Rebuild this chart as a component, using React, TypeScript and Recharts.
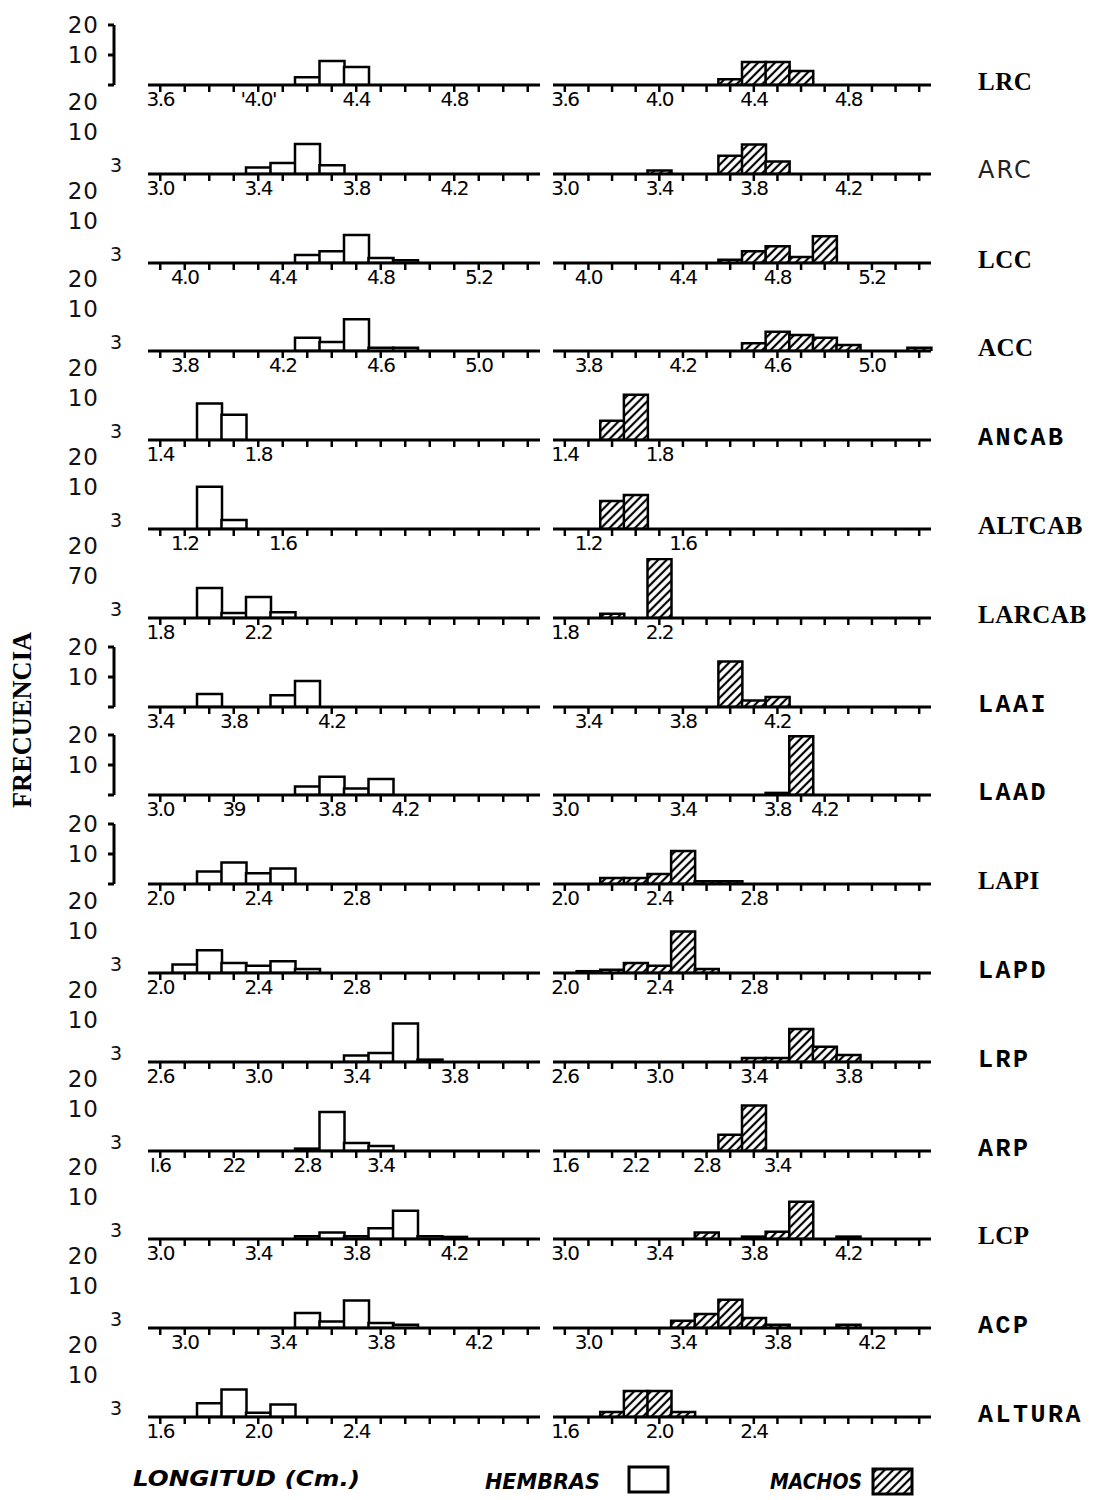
import { Bar, BarChart, XAxis, YAxis } from "recharts";

const rowNames = [
  "LRC", "ARC", "LCC", "ACC", "ANCAB", "ALTCAB", "LARCAB", "LAAI",
  "LAAD", "LAPI", "LAPD", "LRP", "ARP", "LCP", "ACP", "ALTURA",
];

// frecuencia por intervalo de 0.1 cm (16 intervalos por panel)
// HEMBRAS
const lrcH = [0, 0, 0, 0, 0, 0, 2.6, 8, 6, 0, 0, 0, 0, 0, 0, 0];
const arcH = [0, 0, 0, 0, 2.2, 3.7, 10, 2.9, 0, 0, 0, 0, 0, 0, 0, 0];
const lccH = [0, 0, 0, 0, 0, 0, 2.7, 3.9, 9.3, 1.7, 0.9, 0, 0, 0, 0, 0];
const accH = [0, 0, 0, 0, 0, 0, 4.4, 3, 10.6, 1.1, 1.1, 0, 0, 0, 0, 0];
const ancabH = [0, 0, 12.2, 8.4, 0, 0, 0, 0, 0, 0, 0, 0, 0, 0, 0, 0];
const altcabH = [0, 0, 14.1, 3, 0, 0, 0, 0, 0, 0, 0, 0, 0, 0, 0, 0];
const larcabH = [0, 0, 10, 1.7, 7, 1.9, 0, 0, 0, 0, 0, 0, 0, 0, 0, 0];
const laaiH = [0, 0, 4.3, 0, 0, 3.9, 8.7, 0, 0, 0, 0, 0, 0, 0, 0, 0];
const laadH = [0, 0, 0, 0, 0, 0, 2.8, 6.1, 2.2, 5.3, 0, 0, 0, 0, 0, 0];
const lapiH = [0, 0, 4.2, 7.2, 3.6, 5.2, 0, 0, 0, 0, 0, 0, 0, 0, 0, 0];
const lapdH = [0, 2.8, 7.6, 3.3, 2.4, 3.9, 1.3, 0, 0, 0, 0, 0, 0, 0, 0, 0];
const lrpH = [0, 0, 0, 0, 0, 0, 0, 0, 2.2, 3, 12.8, 0.8, 0, 0, 0, 0];
const arpH = [0, 0, 0, 0, 0, 0, 0.8, 13, 2.7, 1.7, 0, 0, 0, 0, 0, 0];
const lcpH = [0, 0, 0, 0, 0, 0, 0.9, 2.2, 0.9, 3.6, 9.4, 0.9, 0.7, 0, 0, 0];
const acpH = [0, 0, 0, 0, 0, 0, 5, 2.2, 9.2, 1.7, 1.1, 0, 0, 0, 0, 0];
const alturaH = [0, 0, 4.6, 9.2, 1.4, 4.2, 0, 0, 0, 0, 0, 0, 0, 0, 0, 0];

// MACHOS
const lrcM = [0, 0, 0, 0, 0, 0, 0, 1.9, 7.7, 7.7, 4.7, 0, 0, 0, 0, 0];
const arcM = [0, 0, 0, 0, 1.2, 0, 0, 6.1, 9.8, 4.2, 0, 0, 0, 0, 0, 0];
const lccM = [0, 0, 0, 0, 0, 0, 0, 1.1, 3.9, 5.6, 2, 8.9, 0, 0, 0, 0];
const accM = [0, 0, 0, 0, 0, 0, 0, 0, 2.6, 6.4, 5.3, 4.4, 2, 0, 0, 1.1];
const ancabM = [0, 0, 6.4, 15.1, 0, 0, 0, 0, 0, 0, 0, 0, 0, 0, 0, 0];
const altcabM = [0, 0, 9.3, 11.3, 0, 0, 0, 0, 0, 0, 0, 0, 0, 0, 0, 0];
const larcabM = [0, 0, 1.4, 0, 19.7, 0, 0, 0, 0, 0, 0, 0, 0, 0, 0, 0];
const laaiM = [0, 0, 0, 0, 0, 0, 0, 15.2, 2.2, 3.3, 0, 0, 0, 0, 0, 0];
const laadM = [0, 0, 0, 0, 0, 0, 0, 0, 0, 0.7, 19.6, 0, 0, 0, 0, 0];
const lapiM = [0, 0, 2, 2, 3.3, 11, 0.9, 0.9, 0, 0, 0, 0, 0, 0, 0, 0];
const lapdM = [0, 0.6, 1.1, 3.3, 2.4, 13.8, 1.3, 0, 0, 0, 0, 0, 0, 0, 0, 0];
const lrpM = [0, 0, 0, 0, 0, 0, 0, 0, 1.3, 1.3, 11, 5.1, 2.3, 0, 0, 0];
const arpM = [0, 0, 0, 0, 0, 0, 0, 5.4, 15.2, 0, 0, 0, 0, 0, 0, 0];
const lcpM = [0, 0, 0, 0, 0, 0, 2.2, 0, 0.8, 2.4, 12.4, 0, 0.8, 0, 0, 0];
const acpM = [0, 0, 0, 0, 0, 2.4, 4.7, 9.4, 3.3, 1.1, 0, 0, 1.1, 0, 0, 0];
const alturaM = [0, 0, 1.7, 8.7, 8.7, 1.7, 0, 0, 0, 0, 0, 0, 0, 0, 0, 0];

// etiquetas del eje x: intervalo -> texto
const lrcTH = { 0: "3.6", 4: "'4.0'", 8: "4.4", 12: "4.8" };
const lrcTM = { 0: "3.6", 4: "4.0", 8: "4.4", 12: "4.8" };
const arcT = { 0: "3.0", 4: "3.4", 8: "3.8", 12: "4.2" };
const lccT = { 1: "4.0", 5: "4.4", 9: "4.8", 13: "5.2" };
const accT = { 1: "3.8", 5: "4.2", 9: "4.6", 13: "5.0" };
const ancabT = { 0: "1.4", 4: "1.8" };
const altcabT = { 1: "1.2", 5: "1.6" };
const larcabT = { 0: "1.8", 4: "2.2" };
const laaiTH = { 0: "3.4", 3: "3.8", 7: "4.2" };
const laaiTM = { 1: "3.4", 5: "3.8", 9: "4.2" };
const laadTH = { 0: "3.0", 3: "39", 7: "3.8", 10: "4.2" };
const laadTM = { 0: "3.0", 5: "3.4", 9: "3.8", 11: "4.2" };
const lapT = { 0: "2.0", 4: "2.4", 8: "2.8" };
const lrpT = { 0: "2.6", 4: "3.0", 8: "3.4", 12: "3.8" };
const arpTH = { 0: "I.6", 3: "22", 6: "2.8", 9: "3.4" };
const arpTM = { 0: "1.6", 3: "2.2", 6: "2.8", 9: "3.4" };
const lcpT = { 0: "3.0", 4: "3.4", 8: "3.8", 12: "4.2" };
const acpT = { 1: "3.0", 5: "3.4", 9: "3.8", 13: "4.2" };
const alturaT = { 0: "1.6", 4: "2.0", 8: "2.4" };

// etiqueta intermedia del eje y (la fila LARCAB dice "70")
const yMid = ["10", "10", "10", "10", "10", "10", "70", "10", "10", "10", "10", "10", "10", "10", "10", "10"];
const bracketRows = ["LRC", "LAAI", "LAAD", "LAPI"];

const hembras = [lrcH, arcH, lccH, accH, ancabH, altcabH, larcabH, laaiH, laadH, lapiH, lapdH, lrpH, arpH, lcpH, acpH, alturaH];
const machos = [lrcM, arcM, lccM, accM, ancabM, altcabM, larcabM, laaiM, laadM, lapiM, lapdM, lrpM, arpM, lcpM, acpM, alturaM];
const ticksH = [lrcTH, arcT, lccT, accT, ancabT, altcabT, larcabT, laaiTH, laadTH, lapT, lapT, lrpT, arpTH, lcpT, acpT, alturaT];
const ticksM = [lrcTM, arcT, lccT, accT, ancabT, altcabT, larcabT, laaiTM, laadTM, lapT, lapT, lrpT, arpTM, lcpT, acpT, alturaT];

const serifNames = ["LRC", "LCC", "ACC", "ALTCAB", "LARCAB", "LAPI", "LCP"];

const Panel = ({ values, labels, hatched, id, width }: any) => {
  const data = values.map((v: number, i: number) => ({ i, v }));
  return (
    <BarChart
      width={width}
      height={96}
      data={data}
      margin={{ top: 6, right: 10, bottom: 0, left: 10 }}
      barCategoryGap={0}
      barGap={0}
    >
      <defs>
        <pattern id={id} patternUnits="userSpaceOnUse" width={6} height={6} patternTransform="rotate(45)">
          <rect width={6} height={6} fill="#fff" />
          <line x1={3} y1={0} x2={3} y2={6} stroke="#000" strokeWidth={2.2} />
        </pattern>
      </defs>
      <XAxis
        dataKey="i"
        interval={0}
        tickFormatter={(v: number) => labels[v] ?? ""}
        axisLine={{ stroke: "#000", strokeWidth: 3 }}
        tickLine={{ stroke: "#000", strokeWidth: 2.5 }}
        tickSize={7}
        tickMargin={0}
        height={30}
        tick={{ fill: "#000", fontSize: 20, fontFamily: "DejaVu Sans", letterSpacing: -1.5 }}
      />
      <YAxis hide domain={[0, 20]} allowDataOverflow />
      <Bar
        dataKey="v"
        fill={hatched ? `url(#${id})` : "#fff"}
        stroke="#000"
        strokeWidth={2.5}
        isAnimationActive={false}
      />
    </BarChart>
  );
};

const YScale = ({ bracket, mid }: any) => {
  const ticks = bracket ? [0, 10, 20] : [3, 10, 20];
  const renderTick = (p: any) => {
    const v = p.payload.value;
    if (v === 0) return <g />;
    const text = v === 10 ? mid : String(v);
    const dx = v === 3 ? 17 : -7;
    const dy = bracket || v === 3 ? 0 : -12;
    return (
      <text
        x={p.x + dx}
        y={p.y + dy}
        dy="0.35em"
        textAnchor="end"
        fontSize={v === 3 ? 19 : 23}
        fontFamily="DejaVu Sans"
        fill="#111"
        letterSpacing={1}
      >
        {text}
      </text>
    );
  };
  return (
    <BarChart width={130} height={100} data={[{ i: 0, v: 0 }]} margin={{ top: 30, right: 8, bottom: 10, left: 0 }}>
      <XAxis dataKey="i" hide />
      <YAxis
        width={114}
        domain={[0, 20]}
        ticks={ticks}
        interval={0}
        axisLine={bracket ? { stroke: "#000", strokeWidth: 3 } : false}
        tickLine={bracket ? { stroke: "#000", strokeWidth: 3 } : false}
        tickSize={6}
        tick={renderTick}
      />
      <Bar dataKey="v" isAnimationActive={false} />
    </BarChart>
  );
};

const App = () => {
  const base = (i: number) => Math.round(85 + i * 88.8);
  return (
    <div style={{ position: "absolute", left: 0, top: 0, width: 1095, height: 1500, background: "#fff" }}>
      {rowNames.map((name, i) => (
        <div key={name}>
          <div style={{ position: "absolute", left: 0, top: base(i) - 90 }}>
            <YScale bracket={bracketRows.includes(name)} mid={yMid[i]} />
          </div>
          <div style={{ position: "absolute", left: 138, top: base(i) - 66 }}>
            <Panel values={hembras[i]} labels={ticksH[i]} hatched={false} id={`h${i}`} width={412} />
          </div>
          <div style={{ position: "absolute", left: 543, top: base(i) - 66 }}>
            <Panel values={machos[i]} labels={ticksM[i]} hatched id={`m${i}`} width={398} />
          </div>
        </div>
      ))}
      <svg width={1095} height={1500} style={{ position: "absolute", left: 0, top: 0, pointerEvents: "none" }}>
        <defs>
          <pattern id="legendHatch" patternUnits="userSpaceOnUse" width={6} height={6} patternTransform="rotate(45)">
            <rect width={6} height={6} fill="#fff" />
            <line x1={3} y1={0} x2={3} y2={6} stroke="#000" strokeWidth={2.2} />
          </pattern>
        </defs>
        {rowNames.map((name, i) => {
          const serif = serifNames.includes(name);
          const sans = name === "ARC";
          return (
            <text
              key={name}
              x={978}
              y={base(i) - 4}
              dy="0.35em"
              fontFamily={sans ? "DejaVu Sans" : serif ? "Liberation Serif" : "Liberation Mono"}
              fontWeight={sans ? 400 : 700}
              fontSize={sans ? 24 : serif ? 25 : 25}
              letterSpacing={sans ? 2 : serif ? 0.5 : 2.5}
              fill={sans ? "#222" : "#000"}
            >
              {name}
            </text>
          );
        })}
        <text
          x={22}
          y={720}
          transform="rotate(-90 22 720)"
          textAnchor="middle"
          dy="0.35em"
          fontFamily="Liberation Serif"
          fontWeight={700}
          fontSize={27}
          textLength={176}
          lengthAdjust="spacingAndGlyphs"
        >
          FRECUENCIA
        </text>
        <text x={133} y={1478} dy="0.35em" fontFamily="DejaVu Sans" fontStyle="italic" fontWeight={700} fontSize={22} textLength={227} lengthAdjust="spacingAndGlyphs">
          LONGITUD (Cm.)
        </text>
        <text x={485} y={1481} dy="0.35em" fontFamily="DejaVu Sans" fontStyle="italic" fontWeight={700} fontSize={22} textLength={115} lengthAdjust="spacingAndGlyphs">
          HEMBRAS
        </text>
        <rect x={629} y={1467} width={39} height={25} fill="#fff" stroke="#000" strokeWidth={3} />
        <text x={770} y={1481} dy="0.35em" fontFamily="DejaVu Sans" fontStyle="italic" fontWeight={700} fontSize={22} textLength={92} lengthAdjust="spacingAndGlyphs">
          MACHOS
        </text>
        <rect x={873} y={1469} width={39} height={25} fill="url(#legendHatch)" stroke="#000" strokeWidth={3} />
      </svg>
    </div>
  );
};

export default App;
